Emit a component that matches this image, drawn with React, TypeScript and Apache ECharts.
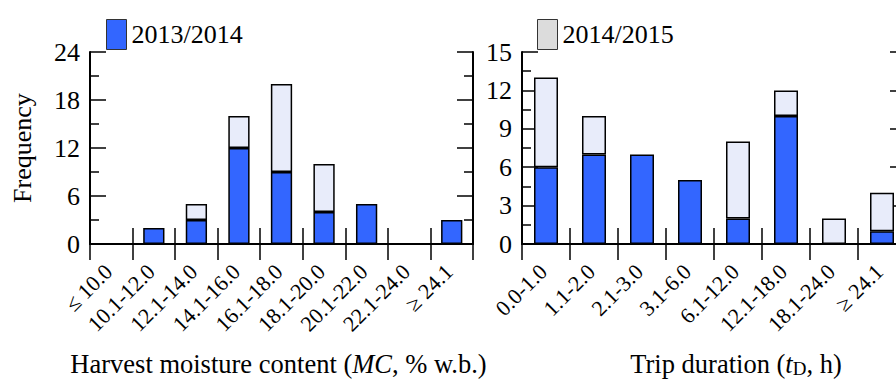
import React, { useEffect, useRef } from 'react';
import * as echarts from 'echarts';

const mcCategories = ['≤ 10.0', '10.1-12.0', '12.1-14.0', '14.1-16.0', '16.1-18.0', '18.1-20.0', '20.1-22.0', '22.1-24.0', '≥ 24.1'];
const mc2013 = [0, 2, 3, 12, 9, 4, 5, 0, 3];
const mc2014 = [0, 0, 2, 4, 11, 6, 0, 0, 0];

const tdCategories = ['0.0-1.0', '1.1-2.0', '2.1-3.0', '3.1-6.0', '6.1-12.0', '12.1-18.0', '18.1-24.0', '≥ 24.1'];
const td2013 = [6, 7, 7, 5, 2, 10, 0, 1];
const td2014 = [7, 3, 0, 0, 6, 2, 2, 3];

const mcScale = { min: 0, max: 24, interval: 6 };
const tdScale = { min: 0, max: 15, interval: 3 };

const seriesNames = ['2013/2014', '2014/2015'];

const FONT = 'Liberation Serif, Times New Roman, serif';
const BLUE = '#3366FF';
const LIGHT = '#E8ECFA';
const LEGEND_LIGHT = '#DCDCDC';

const toBar = (arr: number[]) => arr.map((v) => (v === 0 ? '-' : v));

const lineStyle = { color: '#000', width: 2 };
const tickStyle = { color: '#000', width: 1.5 };

function bottomX(gridIndex: number, data: string[], name: string, rich: any, namePadding: number[]) {
  return {
    type: 'category',
    gridIndex,
    data,
    position: 'bottom',
    boundaryGap: true,
    axisLine: { show: true, lineStyle },
    axisTick: { show: true, inside: true, length: 16, interval: 0, lineStyle: tickStyle },
    axisLabel: {
      interval: 0,
      rotate: 45,
      margin: 21,
      padding: [0, 4, 0, 0],
      fontSize: 22,
      fontFamily: FONT,
      color: '#000',
    },
    name,
    nameLocation: 'middle',
    nameGap: 106,
    nameTextStyle: { fontFamily: FONT, fontSize: 26.5, color: '#000', rich, padding: namePadding },
  };
}

function topX(gridIndex: number, data: string[]) {
  return {
    type: 'category',
    gridIndex,
    data,
    position: 'top',
    boundaryGap: true,
    axisLine: { show: true, lineStyle },
    axisTick: { show: true, inside: true, length: 16, interval: 0, lineStyle: tickStyle },
    axisLabel: { show: false },
  };
}

function valueY(gridIndex: number, scale: any, position: string, showLabel: boolean, name?: string) {
  return {
    type: 'value',
    gridIndex,
    position,
    min: scale.min,
    max: scale.max,
    interval: scale.interval,
    axisLine: { show: true, lineStyle },
    axisTick: { show: true, inside: true, length: 16, lineStyle: tickStyle },
    minorTick: { show: true, splitNumber: 2, length: 9, lineStyle: tickStyle },
    splitLine: { show: false },
    axisLabel: { show: showLabel, fontSize: 26, fontFamily: FONT, color: '#000', margin: 10 },
    name: name || '',
    nameLocation: 'middle',
    nameGap: 55,
    nameTextStyle: { fontFamily: FONT, fontSize: 26, color: '#000' },
  };
}

export default function App() {
  const ref = useRef<HTMLDivElement>(null);
  useEffect(() => {
    if (!ref.current) return;
    const chart = echarts.init(ref.current, undefined, { renderer: 'svg' });
    const richBase = { fontFamily: FONT, fontSize: 26.5, color: '#000', lineHeight: 28 };
    const rich = {
      a: { ...richBase },
      i: { ...richBase, fontStyle: 'italic' },
      s: { fontFamily: FONT, fontSize: 19, color: '#000', lineHeight: 12, verticalAlign: 'bottom' },
    };
    const barStyle = (color: string) => ({ color, borderColor: '#000', borderWidth: 1.5 });
    const legendBase = {
      icon: 'rect',
      top: 14,
      itemWidth: 20,
      itemHeight: 30,
      itemGap: 8,
      selectedMode: false,
      itemStyle: { borderColor: '#333', borderWidth: 1 },
      textStyle: { fontFamily: FONT, fontSize: 26, color: '#000' },
    };
    chart.setOption({
      animation: false,
      backgroundColor: '#fff',
      legend: [
        { ...legendBase, data: [seriesNames[0]], left: 101 },
        { ...legendBase, data: [{ name: seriesNames[1], itemStyle: { color: LEGEND_LIGHT } }], left: 532 },
      ],
      grid: [
        { left: 90, top: 52, width: 383, height: 192, outerBoundsMode: 'none' },
        { left: 522, top: 52, width: 384, height: 192, outerBoundsMode: 'none' },
      ],
      xAxis: [
        bottomX(0, mcCategories, '{a|Harvest moisture content (}{i|MC}{a|, % w.b.)}', rich, [0, 6, 0, 0]),
        topX(0, mcCategories),
        bottomX(1, tdCategories, '{a|Trip duration (}{i|t}{s|D}{a|, h)}', rich, [0, 0, 0, 44]),
        topX(1, tdCategories),
      ],
      yAxis: [
        valueY(0, mcScale, 'left', true, 'Frequency'),
        valueY(0, mcScale, 'right', false),
        valueY(1, tdScale, 'left', true),
        valueY(1, tdScale, 'right', false),
      ],
      series: [
        { type: 'bar', name: seriesNames[0], xAxisIndex: 0, yAxisIndex: 0, stack: 'L', barWidth: '50%', data: toBar(mc2013), itemStyle: barStyle(BLUE) },
        { type: 'bar', name: seriesNames[1], xAxisIndex: 0, yAxisIndex: 0, stack: 'L', barWidth: '50%', data: toBar(mc2014), itemStyle: barStyle(LIGHT) },
        { type: 'bar', name: seriesNames[0], xAxisIndex: 2, yAxisIndex: 2, stack: 'R', barWidth: '50%', data: toBar(td2013), itemStyle: barStyle(BLUE) },
        { type: 'bar', name: seriesNames[1], xAxisIndex: 2, yAxisIndex: 2, stack: 'R', barWidth: '50%', data: toBar(td2014), itemStyle: barStyle(LIGHT) },
      ],
    });
    return () => chart.dispose();
  }, []);
  return <div ref={ref} style={{ position: 'absolute', left: 0, top: 0, width: 896, height: 381 }} />;
}
